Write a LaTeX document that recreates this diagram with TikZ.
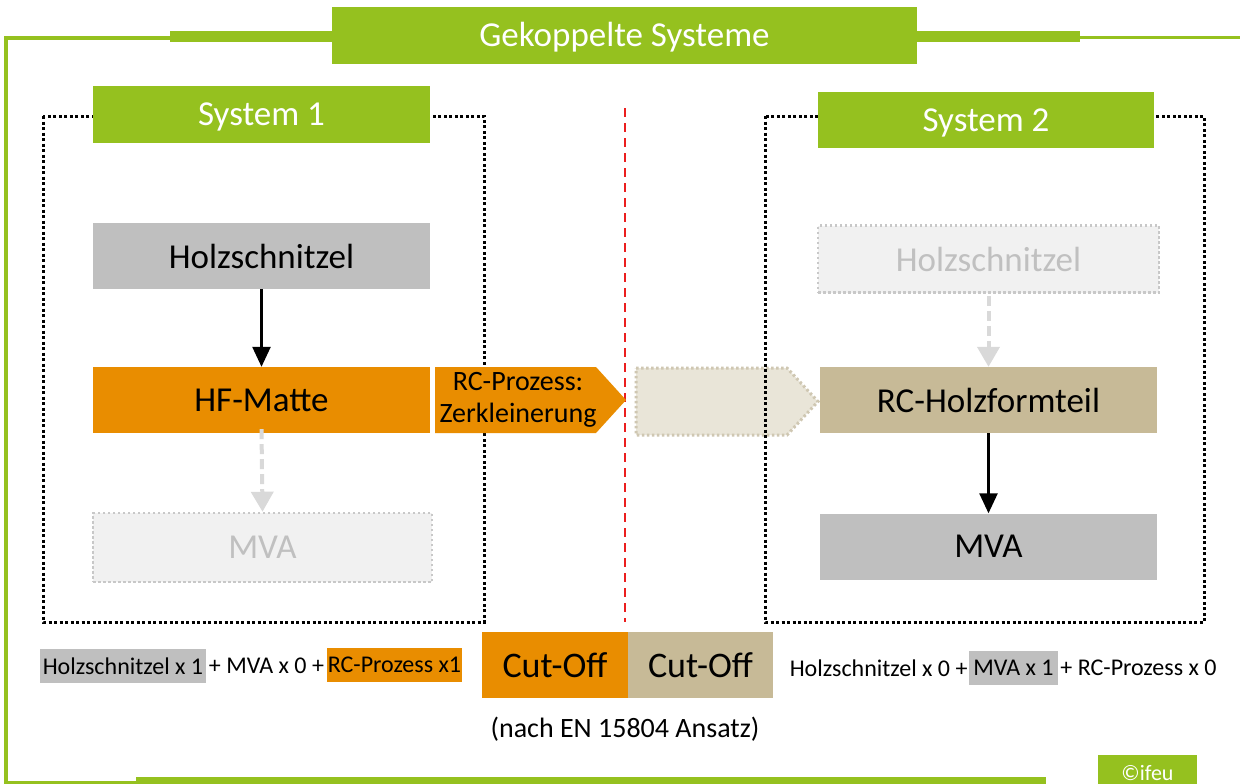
\documentclass[tikz,border=0pt]{standalone}
\usepackage{fontspec}
\setmainfont{Carlito}
\usetikzlibrary{arrows.meta}
\definecolor{igreen}{RGB}{149,193,31}
\definecolor{iorange}{RGB}{233,141,0}
\definecolor{itan}{RGB}{199,186,151}
\definecolor{igray}{RGB}{191,191,191}
\definecolor{ifadefill}{RGB}{241,241,241}
\definecolor{ifadeline}{RGB}{200,200,200}
\definecolor{ifadetext}{RGB}{192,192,192}
\definecolor{ipentfill}{RGB}{233,229,216}
\definecolor{ipentline}{RGB}{207,199,178}
\definecolor{ired}{RGB}{235,30,30}
\definecolor{iarrowgray}{RGB}{217,217,217}
\tikzset{
  procbox/.style={minimum width=337pt, minimum height=66pt, inner sep=0pt, text=black, font=\fontsize{35}{40}\selectfont},
  fadebox/.style={procbox, fill=ifadefill, draw=ifadeline, line width=2.5pt, dash pattern=on 2.5pt off 2.5pt, text=ifadetext},
  greenbar/.style={fill=igreen, inner sep=0pt, text=white, font=\fontsize{35}{40}\selectfont, text height=22.4pt, text depth=0pt},
  sysframe/.style={draw=black, line width=3pt, dash pattern=on 3pt off 2.5pt},
  solidarrow/.style={line width=2.5pt, -{Triangle[width=18pt,length=20pt]}},
  fadearrow/.style={draw=iarrowgray, line width=4pt, dash pattern=on 10pt off 5pt, -{Triangle[width=22pt,length=20pt]}},
  formula/.style={inner sep=0pt, text=black, font=\fontsize{24}{28}\selectfont},
  hilite/.style={formula, minimum height=34pt},
  cutbox/.style={minimum width=146pt, minimum height=66pt, inner sep=0pt, text=black, font=\fontsize{36}{40}\selectfont}
}
\begin{document}
\begin{tikzpicture}[x=1pt,y=-1pt]
\clip (0,0) rectangle (1240,784);
\fill[white] (0,0) rectangle (1240,784);

% outer green frame
\draw[igreen, line width=3.5pt] (6,784) -- (6,38) -- (172,38);
\fill[igreen] (170,31) rectangle (333,42);
\fill[igreen] (916,31) rectangle (1080,42);
\draw[igreen, line width=3pt] (1078,37.5) -- (1240,37.5);
\draw[igreen, line width=3pt] (6,782.5) -- (138,782.5);
\fill[igreen] (136,777) rectangle (1046,786);
\node[greenbar, minimum width=585pt, minimum height=57pt] (title) at (624.5,35.5) {Gekoppelte Systeme};
\fill[igreen] (1098,755) rectangle (1197,786);
\node[text=white, inner sep=0pt, font=\fontsize{22}{26}\selectfont, anchor=base] (ifeu) at (1147.5,780) {©ifeu};

% red cut line
\draw[ired, line width=2pt, dash pattern=on 9pt off 6pt] (625,108) -- (625,622);

% faded pentagon (system 2 input)
\draw[fill=ipentfill, draw=ipentline, line width=3pt, dash pattern=on 2.5pt off 2.5pt]
  (636,368) -- (787,368) -- (818,401.5) -- (787,435) -- (636,435) -- cycle;
\coordinate (pent2) at (712,401.5);

% system frames
\draw[sysframe] (43,116) rectangle (484,622);
\draw[sysframe] (765,116) rectangle (1204,622);
\node[greenbar, minimum width=337pt, minimum height=57pt] (sys1) at (261.5,114.5) {System 1};
\node[greenbar, minimum width=336pt, minimum height=56pt] (sys2) at (986,120) {System 2};

% system 1
\node[procbox, fill=igray] (hs1) at (261.5,256) {Holzschnitzel};
\node[procbox, fill=iorange] (hf) at (261.5,400) {HF-Matte};
\node[fadebox, minimum width=339pt, minimum height=69pt] (mva1) at (262.5,547.5) {MVA};
\draw[solidarrow] (hs1.south) -- (hf.north);
\draw[fadearrow] ([yshift=4pt]hf.south) -- (mva1.north);

% orange pentagon
\fill[iorange] (435,367) -- (596,367) -- (626,400) -- (596,433) -- (435,433) -- cycle;
\node[align=center, text=black, inner sep=0pt, font=\fontsize{28}{32}\selectfont] (rc) at (518,400) {RC-Prozess:\\Zerkleinerung};

% system 2
\node[fadebox, minimum width=341pt, minimum height=67pt] (hs2) at (988.5,259) {Holzschnitzel};
\node[procbox, fill=itan] (rch) at (988.5,400) {RC-Holzformteil};
\node[procbox, fill=igray] (mva2) at (988.5,546.5) {MVA};
\draw[fadearrow] ([yshift=-2pt]hs2.south) -- (rch.north);
\draw[solidarrow] (rch.south) -- (mva2.north);

% cut-off boxes
\node[cutbox, fill=iorange] (cut1) at (555,665) {Cut-Off};
\node[cutbox, fill=itan, minimum width=145pt] (cut2) at (700.5,665) {Cut-Off};
\node[formula, font=\fontsize{28}{32}\selectfont] (note) at (625,729) {(nach EN 15804 Ansatz)};

% formulas
\node[hilite, fill=igray, minimum width=166pt] (f1) at (123,666) {Holzschnitzel x 1};
\node[formula] (f2) at (266.5,666) {+ MVA x 0 +};
\node[hilite, fill=iorange, minimum width=135pt] (f3) at (394.5,665) {RC-Prozess x1};
\node[hilite, fill=igray, minimum width=89pt] (g2) at (1013.5,668) {MVA x 1};
\node[formula, anchor=east] (g1) at ([xshift=-1pt]g2.west) {Holzschnitzel x 0 +};
\node[formula, anchor=west] (g3) at ([xshift=2pt]g2.east) {+ RC-Prozess x 0};
\end{tikzpicture}
\end{document}
